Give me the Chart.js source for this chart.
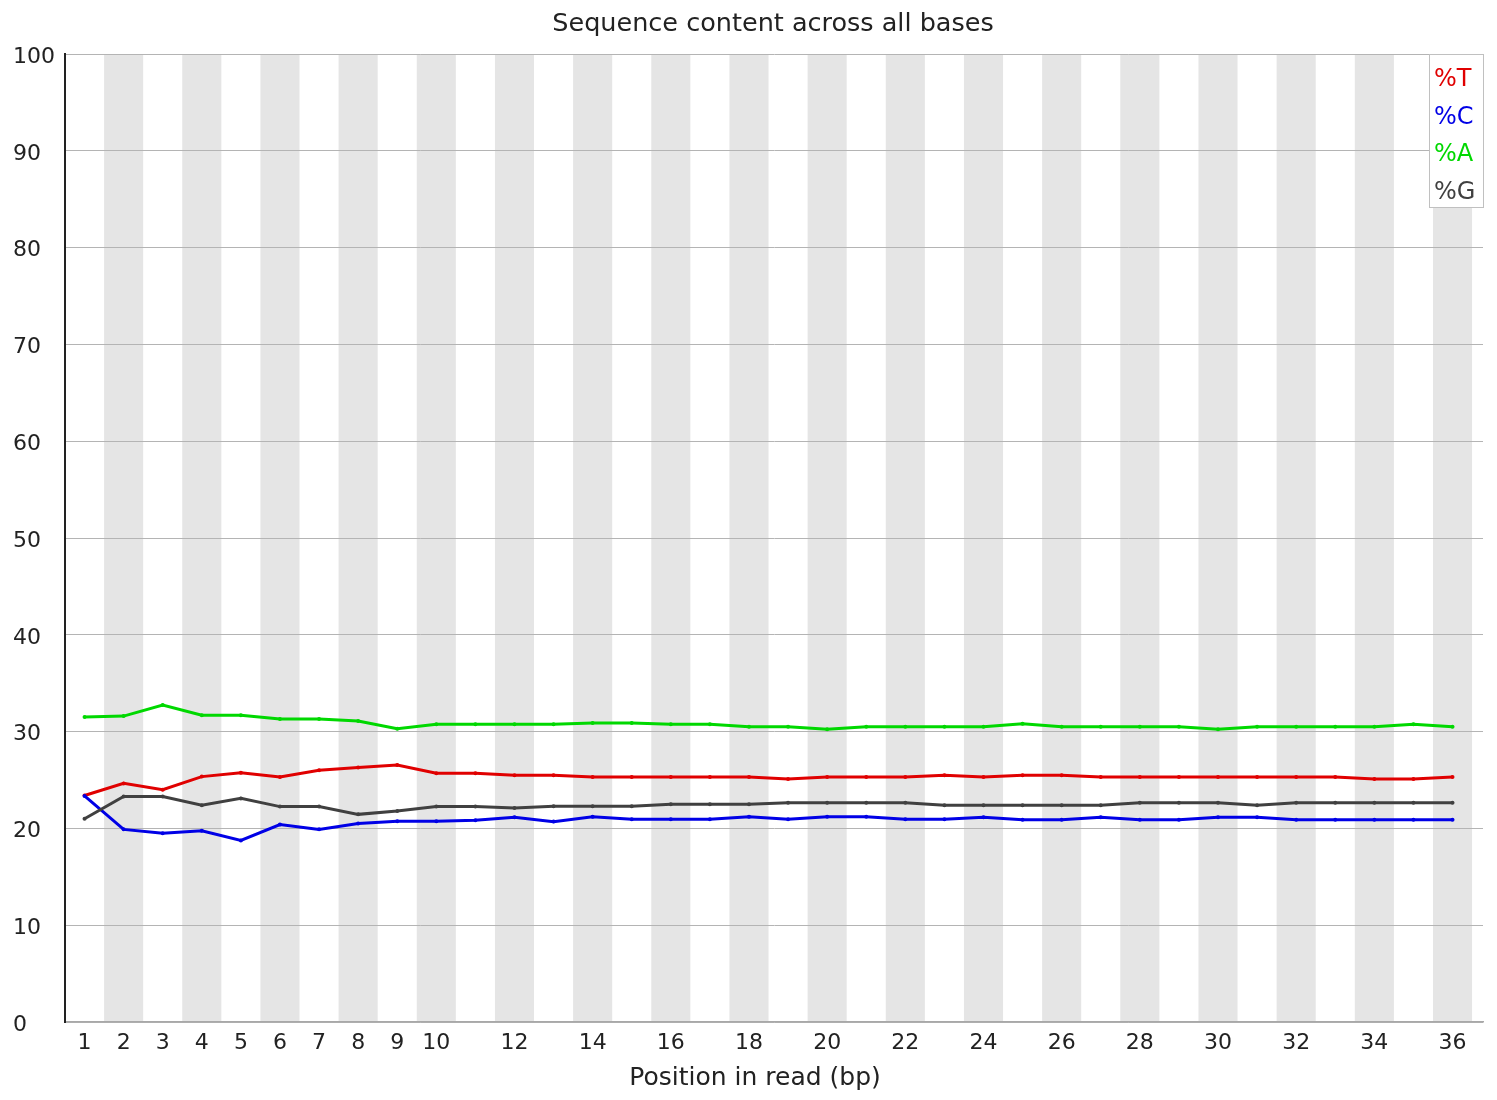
<!DOCTYPE html>
<html>
<head>
<meta charset="utf-8">
<script src="https://cdn.jsdelivr.net/npm/chart.js@4/dist/chart.umd.min.js"></script>
<style>
html,body{margin:0;padding:0;background:#fff;}
#wrap{width:1497px;height:1100px;}
</style>
</head>
<body>
<div id="wrap"><canvas id="c" width="1497" height="1100"></canvas></div>
<script>
const positions = [1,2,3,4,5,6,7,8,9,10,11,12,13,14,15,16,17,18,19,20,21,22,23,24,25,26,27,28,29,30,31,32,33,34,35,36];
const tickLabels = [1,2,3,4,5,6,7,8,9,10,12,14,16,18,20,22,24,26,28,30,32,34,36];
const pctT = [23.4,24.65,24.0,25.35,25.75,25.3,26.0,26.3,26.55,25.7,25.7,25.5,25.5,25.3,25.3,25.3,25.3,25.3,25.1,25.3,25.3,25.3,25.5,25.3,25.5,25.5,25.3,25.3,25.3,25.3,25.3,25.3,25.3,25.1,25.1,25.3];
const pctC = [23.35,19.9,19.5,19.75,18.75,20.4,19.9,20.5,20.75,20.75,20.85,21.15,20.7,21.2,20.95,20.95,20.95,21.2,20.95,21.2,21.2,20.95,20.95,21.15,20.9,20.9,21.15,20.9,20.9,21.15,21.15,20.9,20.9,20.9,20.9,20.9];
const pctA = [31.5,31.6,32.75,31.7,31.7,31.3,31.3,31.1,30.3,30.75,30.75,30.75,30.75,30.9,30.9,30.75,30.75,30.5,30.5,30.25,30.5,30.5,30.5,30.5,30.8,30.5,30.5,30.5,30.5,30.25,30.5,30.5,30.5,30.5,30.75,30.5];
const pctG = [21.0,23.3,23.3,22.4,23.1,22.25,22.25,21.45,21.8,22.25,22.25,22.1,22.3,22.3,22.3,22.5,22.5,22.5,22.65,22.65,22.65,22.65,22.4,22.4,22.4,22.4,22.4,22.65,22.65,22.65,22.4,22.65,22.65,22.65,22.65,22.65];
const seriesNames = ['%T','%C','%A','%G'];
const seriesColors = ['#e00000','#0000e6','#00d800','#404040'];
const titleText = 'Sequence content across all bases';
const xTitleText = 'Position in read (bp)';

const FONT = '"DejaVu Sans", sans-serif';

function pts(arr){ return positions.map((p,i)=>({x:p,y:arr[i]})); }

const bandsPlugin = {
  id:'bands',
  beforeDraw(chart){
    const {ctx, chartArea:a, scales:{x}} = chart;
    ctx.save();
    positions.forEach(p=>{
      if (p % 2 === 0){
        const l = x.getPixelForValue(p-0.5), r = x.getPixelForValue(p+0.5);
        ctx.fillStyle = '#e5e5e5';
        ctx.fillRect(l, a.top, r-l, a.bottom-a.top);
      }
    });
    ctx.restore();
  },
  afterDraw(chart){
    const {ctx} = chart;
    ctx.save();
    ctx.fillStyle = '#222';
    ctx.textAlign = 'center';
    ctx.textBaseline = 'middle';
    ctx.font = '25.5px ' + FONT;
    ctx.fillText(titleText, 773, 24);
    ctx.font = '25px ' + FONT;
    ctx.fillText(xTitleText, 755, 1078);
    // legend
    const lx = 1429, ly = 54, lw = 54, lh = 153;
    ctx.fillStyle = '#fff';
    ctx.fillRect(lx, ly, lw, lh);
    ctx.strokeStyle = '#c0c0c0';
    ctx.lineWidth = 1;
    ctx.strokeRect(lx+0.5, ly+0.5, lw, lh);
    ctx.textAlign = 'left';
    ctx.font = '24px ' + FONT;
    seriesNames.forEach((n,i)=>{
      ctx.fillStyle = seriesColors[i];
      ctx.fillText(n, 1434, 80 + i*37.5);
    });
    ctx.restore();
  }
};

function ds(label, arr, color){
  return {label, data:pts(arr), borderColor:color, backgroundColor:color, borderWidth:3,
    pointRadius:2, pointHoverRadius:2, pointBorderWidth:0, tension:0};
}

new Chart(document.getElementById('c'), {
  type:'line',
  data:{ datasets:[
    ds(seriesNames[3], pctG, seriesColors[3]),
    ds(seriesNames[1], pctC, seriesColors[1]),
    ds(seriesNames[0], pctT, seriesColors[0]),
    ds(seriesNames[2], pctA, seriesColors[2])
  ]},
  options:{
    responsive:false, animation:false,
    layout:{padding:{left:13, top:54, right:14, bottom:0}},
    plugins:{legend:{display:false}, title:{display:false}, tooltip:{enabled:false}},
    scales:{
      x:{type:'linear', min:0.5, max:36.78,
        afterBuildTicks(s){ s.ticks = tickLabels.map(v=>({value:v})); },
        afterFit(s){ s.height = 78; },
        grid:{display:false, drawTicks:false},
        border:{display:true, color:'#a8a8a8', width:1.5},
        ticks:{autoSkip:false, maxRotation:0, color:'#222', font:{family:FONT, size:22}, padding:8,
          callback:(v)=>String(v)}
      },
      y:{type:'linear', min:0, max:100,
        afterFit(s){ s.width = 52; },
        grid:{color:'#b4b4b4', lineWidth:1, drawTicks:false},
        border:{display:true, color:'#222', width:2},
        ticks:{stepSize:10, crossAlign:'far', color:'#222', font:{family:FONT, size:22}, padding:0, labelOffset:3}
      }
    }
  },
  plugins:[bandsPlugin]
});
</script>
</body>
</html>
